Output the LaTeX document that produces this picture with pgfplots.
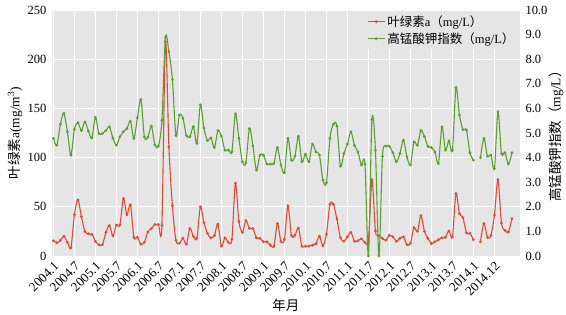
\documentclass[border=0pt]{standalone}
\usepackage{pgfplots}
\pgfplotsset{compat=1.18}
\usepackage{pgfplotstable}
\usepackage{fontspec}
\setmainfont{Liberation Serif}
\newfontfamily\cjk{Noto Sans CJK SC}
\definecolor{bgc}{RGB}{229,229,229}
\definecolor{redc}{RGB}{226,74,51}
\definecolor{greenc}{RGB}{90,160,48}

\pgfplotstableread{
x y
0 15.5
1 13.5
2 16
3 20
4 14
5 8.5
6 42
7 57
8 40
9 25
10 22.5
11 22
12 15
13 11.5
14 11.5
15 24
16 31
17 20.5
18 31.5
19 31.5
20 58.5
21 42
22 52
23 19
24 19
25 12
26 14
27 24.5
28 28
29 32
30 32
31 31
32 218
33 111
34 51
35 16
36 13
37 18
38 12
39 28
40 20
41 18
42 50
43 34
44 23
45 18.5
46 21
47 32.5
48 10
49 18.5
50 14
51 17
52 74
53 35
54 24
55 36
56 28
57 28
58 18.5
59 18
60 14.5
61 14.5
62 11
63 10
64 33
65 15
66 17
67 51
68 21
69 21
70 28.5
71 10
72 10
73 10
74 11
75 12.5
76 20
77 10.5
78 22
79 52.5
80 52.5
81 37.5
82 18.5
83 15
84 19.5
85 24
86 15
87 15.5
88 17.5
89 14
90 16
91 77.5
92 25.5
93 20.5
94 18
95 16
96 21
97 19.5
98 15
99 18
100 19.5
101 11.5
102 13
103 29
104 25
105 41
106 25
107 18
108 12.5
109 14.5
110 16.5
111 18.5
112 19
113 25.5
114 19.5
115 63.5
116 43
117 39
118 23.5
119 23
120 16.5
121 nan
122 14.5
123 33
124 19
125 21
126 41.5
127 77.5
128 33.5
129 26
130 24.5
131 38
}\redtab

\pgfplotstableread{
x y
0 4.78
1 4.5
2 5.36
3 5.8
4 5.05
5 4.1
6 5.15
7 5.42
8 5.1
9 5.45
10 5.08
11 4.8
12 5.64
13 4.98
14 4.98
15 5.1
16 5.25
17 4.79
18 4.5
19 4.85
20 5.05
21 5.18
22 5.48
23 4.78
24 5.62
25 6.36
26 4.84
27 4.83
28 5.28
29 4.52
30 4.47
31 5.52
32 8.88
33 8.3
34 7.17
35 4.9
36 5.73
37 5.6
38 4.9
39 4.85
40 5.26
41 4.58
42 6.15
43 5.2
44 4.69
45 4.8
46 4.41
47 5.1
48 4.88
49 4.3
50 4.31
51 4.24
52 5.78
53 4.78
54 3.83
55 3.79
56 5.18
57 4.47
58 3.49
59 4.1
60 4.1
61 3.74
62 3.74
63 3.76
64 4.41
65 3.7
66 3.4
67 4.78
68 3.9
69 4.06
70 4.87
71 3.83
72 4.14
73 3.83
74 4.55
75 4.23
76 4.1
77 3.09
78 2.98
79 4.78
80 5.36
81 5.28
82 3.65
83 4.17
84 4.55
85 5.05
86 4.5
87 4.23
88 3.7
89 3.74
90 0
91 5.55
92 4.3
93 0
94 4.05
95 4.47
96 4.45
97 4.2
98 3.83
99 4.17
100 4.71
101 4.03
102 3.7
103 4.64
104 4.5
105 5.1
106 4.85
107 4.46
108 4.41
109 4.23
110 3.76
111 5.25
112 4.3
113 4.68
114 4.3
115 6.85
116 5.73
117 5.14
118 5.12
119 4.2
120 3.9
121 nan
122 4.0
123 4.78
124 4.06
125 4.1
126 3.56
127 5.86
128 4.17
129 4.2
130 3.74
131 4.2
}\greentab

\begin{document}
\begin{tikzpicture}
\useasboundingbox (-52pt,-58pt) rectangle (514pt,256pt);
\pgfplotsset{
  common/.style={
    width=468pt, height=246pt, scale only axis,
    at={(0pt,0pt)}, anchor=south west,
    xmin=-0.4, xmax=133.3,
    unbounded coords=jump,
    major tick length=0pt,
    axis line style={draw=none},
    tick label style={font=\fontsize{12.5}{14}\selectfont},
    label style={font=\fontsize{13.5}{15}\selectfont},
    /pgf/number format/assume math mode=true,
  },
  redline/.style={redc, line width=1.1pt, smooth, mark=*, mark size=0.75pt,
    mark options={fill=black!75, draw=none}},
  greenline/.style={greenc, line width=1.1pt, smooth, mark=*, mark size=0.75pt,
    mark options={fill=black!75, draw=none}},
}
\begin{axis}[common,
  ymin=0, ymax=250, ytick={0,50,...,250},
  xtick={0,6,...,126},
  xticklabels={2004.1,2004.7,2005.1,2005.7,2006.1,2006.7,2007.1,2007.7,2008.1,2008.7,2009.1,2009.7,2010.1,2010.7,2011.1,2011.7,2012.1,2012.7,2013.1,2013.7,2014.1,2014.12},
  xticklabel style={rotate=45, anchor=north east, font=\fontsize{13}{14}\selectfont},
  yticklabel style={xshift=-2pt},
  axis background/.style={fill=bgc},
  grid=major, major grid style={white, line width=0.9pt},
  ylabel={{\cjk 叶绿素}a(mg/m\textsuperscript{3})},
  ylabel style={at={(axis description cs:-0.079,0.5)}, anchor=center},
  xlabel={{\cjk 年月}},
  xlabel style={at={(axis description cs:0.5,-0.199)}, anchor=center},
]
\addplot[redline] table[x=x,y=y]{\redtab};
\end{axis}
\begin{axis}[common,
  ymin=0, ymax=10, ytick={0,1,...,10},
  axis y line*=right, axis x line=none,
  yticklabel style={xshift=2pt, /pgf/number format/.cd, fixed, fixed zerofill, precision=1},
  ylabel={{\cjk 高锰酸钾指数（}mg/L{\cjk ）}},
  ylabel style={at={(axis description cs:1.077,0.5)}, anchor=center},
  legend style={at={(axis description cs:0.997,0.995)}, anchor=north east,
    draw=none, fill=bgc, font=\fontsize{12.5}{14}\selectfont,
    row sep=1pt, inner sep=2pt},
  legend cell align=left,
]
\addlegendimage{redline}
\addlegendentry{{\cjk 叶绿素}a{\cjk （}mg/L{\cjk ）}}
\addplot[greenline] table[x=x,y=y]{\greentab};
\addlegendentry{{\cjk 高锰酸钾指数（}mg/L{\cjk ）}}
\end{axis}
\end{tikzpicture}
\end{document}
